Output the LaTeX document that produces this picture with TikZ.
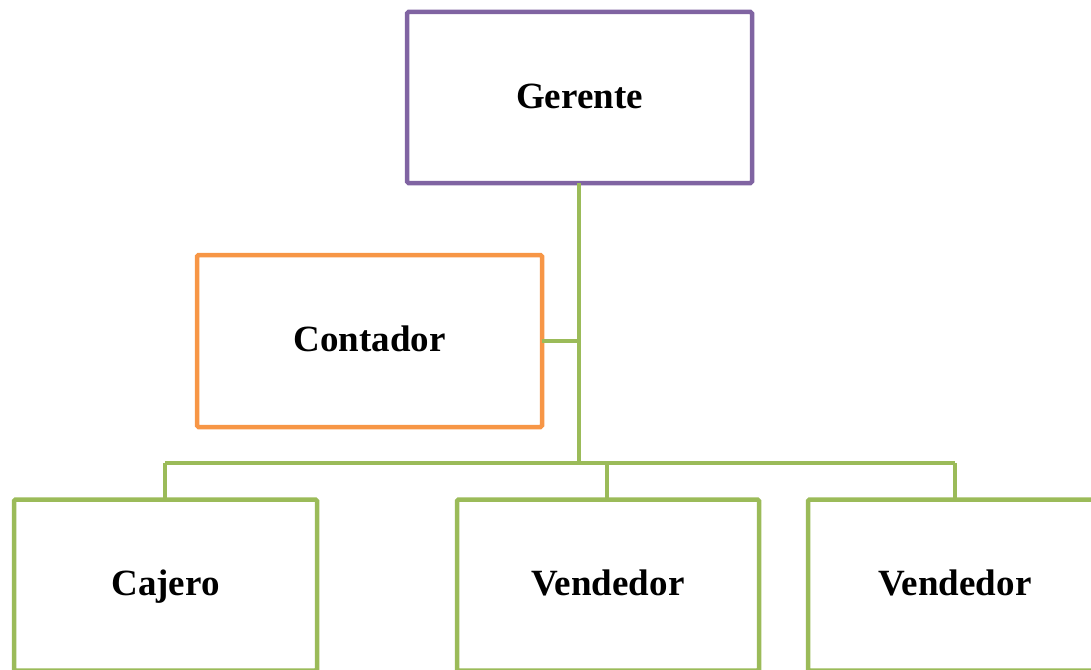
\documentclass[tikz,border=0pt]{standalone}
\usepackage{fontspec}
\setmainfont{Liberation Serif}
\definecolor{purp}{HTML}{8064A2}
\definecolor{orng}{HTML}{F79646}
\definecolor{grn}{HTML}{9BBB59}
\begin{document}
\begin{tikzpicture}[x=1pt,y=-1pt,
  box/.style={draw, line width=4.5pt, fill=white, inner sep=0pt, outer sep=0pt,
    rounded corners=1.5pt, text height=26pt, text depth=5pt,
    font=\fontsize{37}{44}\selectfont\bfseries},
  link/.style={draw=grn, line width=4.5pt, line join=round}]
\useasboundingbox (0,0) rectangle (1091,669);
\clip (0,0) rectangle (1091,669);
\node[box, draw=purp, minimum width=345pt, minimum height=171pt] (ger) at (579.5,97.5) {Gerente};
\node[box, draw=orng, minimum width=345pt, minimum height=172pt] (con) at (369.5,341) {Contador};
\node[box, draw=grn, minimum width=303pt, minimum height=171pt] (caj) at (165.5,585) {Cajero};
\node[box, draw=grn, minimum width=302pt, minimum height=171pt] (ven1) at (608,585) {Vendedor};
\node[box, draw=grn, minimum width=294pt, minimum height=171pt] (ven2) at (955,585) {Vendedor};
\coordinate (hub) at (579,463);
\coordinate (tap) at (579,341);
\coordinate (bl) at (165,463);
\coordinate (bm) at (607,463);
\coordinate (br) at (955,463);
\draw[link] (ger.south -| hub) -- (hub);
\draw[link] (con.east) -- (tap);
\draw[link] (bl) -- (br);
\draw[link] (bl) -- (bl |- caj.north);
\draw[link] (bm) -- (bm |- ven1.north);
\draw[link] (br) -- (br |- ven2.north);
\end{tikzpicture}
\end{document}
